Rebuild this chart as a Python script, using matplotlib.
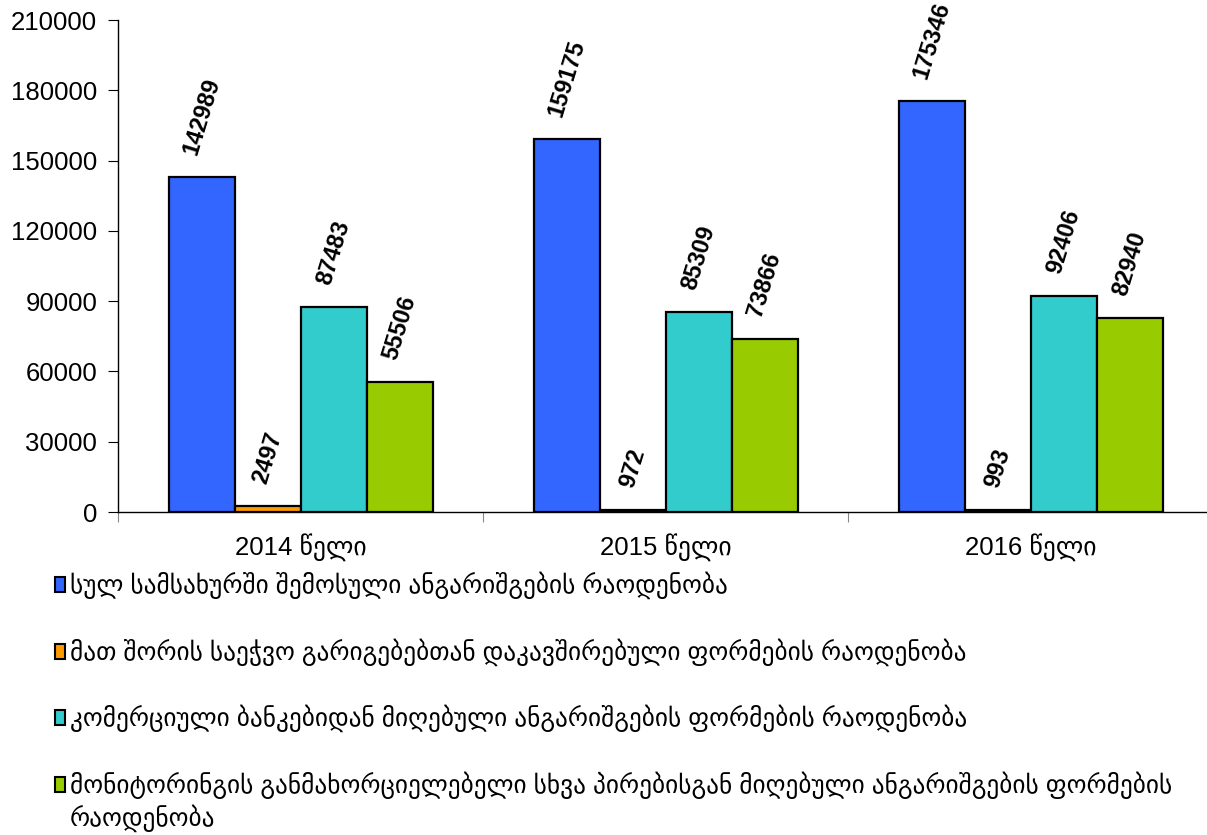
import numpy as np
import matplotlib
matplotlib.use("Agg")
import matplotlib.pyplot as plt
from matplotlib.patches import Rectangle

years = ["2014 წელი", "2015 წელი", "2016 წელი"]
series_names = [
    "სულ სამსახურში შემოსული ანგარიშგების რაოდენობა",
    "მათ შორის საეჭვო გარიგებებთან დაკავშირებული ფორმების რაოდენობა",
    "კომერციული ბანკებიდან მიღებული ანგარიშგების ფორმების რაოდენობა",
    "მონიტორინგის განმახორციელებელი სხვა პირებისგან მიღებული ანგარიშგების ფორმების\nრაოდენობა",
]
total = [142989, 159175, 175346]
suspicious = [2497, 972, 993]
banks = [87483, 85309, 92406]
others = [55506, 73866, 82940]
colors = ["#3366FF", "#FF9900", "#33CCCC", "#99CC00"]

FONT = ["Liberation Sans", "DejaVu Sans"]
plt.rcParams["font.family"] = FONT

W, H = 1207, 835
fig = plt.figure(figsize=(W / 100, H / 100), dpi=100)
ax = fig.add_axes([118 / W, 1 - 512 / H, 1095 / W, 492 / H])

x = np.arange(len(years))
bw = 66 / 365
for i, vals in enumerate([total, suspicious, banks, others]):
    pos = x + (i - 1.5) * bw
    ax.bar(pos, vals, width=bw, color=colors[i], edgecolor="black", linewidth=1.6, zorder=3)
    for p, v in zip(pos, vals):
        ax.annotate(str(v), (p, v), xytext=(0, 14), textcoords="offset points",
                    rotation=73, ha="center", va="bottom", fontsize=17,
                    fontweight="bold", color="black")

ax.set_xlim(-0.5, 2.5)
ax.set_ylim(0, 210000)
ax.set_yticks(np.arange(0, 210001, 30000))
ax.set_yticklabels([str(v) for v in range(0, 210001, 30000)], fontsize=18.5)
ax.set_xticks([-0.5, 0.5, 1.5, 2.5])
ax.set_xticklabels([])
ax.set_xticks(x, minor=True)
ax.set_xticklabels(years, minor=True, fontsize=18.5, family=FONT)
ax.tick_params(axis="x", which="minor", length=0, pad=15)
ax.tick_params(axis="x", which="major", length=7, direction="out", color="#888888")
ax.tick_params(axis="y", length=7, direction="out", pad=8)
for s in ["top", "right"]:
    ax.spines[s].set_visible(False)
ax.spines["left"].set_linewidth(1.0)
ax.spines["bottom"].set_linewidth(1.0)

# legend drawn by hand below the chart
rows_y = [585, 652, 718, 785]
for c, name, yy in zip(colors, series_names, rows_y):
    fig.patches.append(Rectangle((55 / W, 1 - (yy + 7) / H), 10 / W, 15 / H,
                                 transform=fig.transFigure, facecolor=c,
                                 edgecolor="black", linewidth=1.5))
    for k, line in enumerate(name.split("\n")):
        fig.text(70 / W, 1 - (yy + 33 * k) / H, line, fontsize=18.2, family=FONT,
                 va="center", ha="left")

fig.savefig("out.png", dpi=100, facecolor="white")
